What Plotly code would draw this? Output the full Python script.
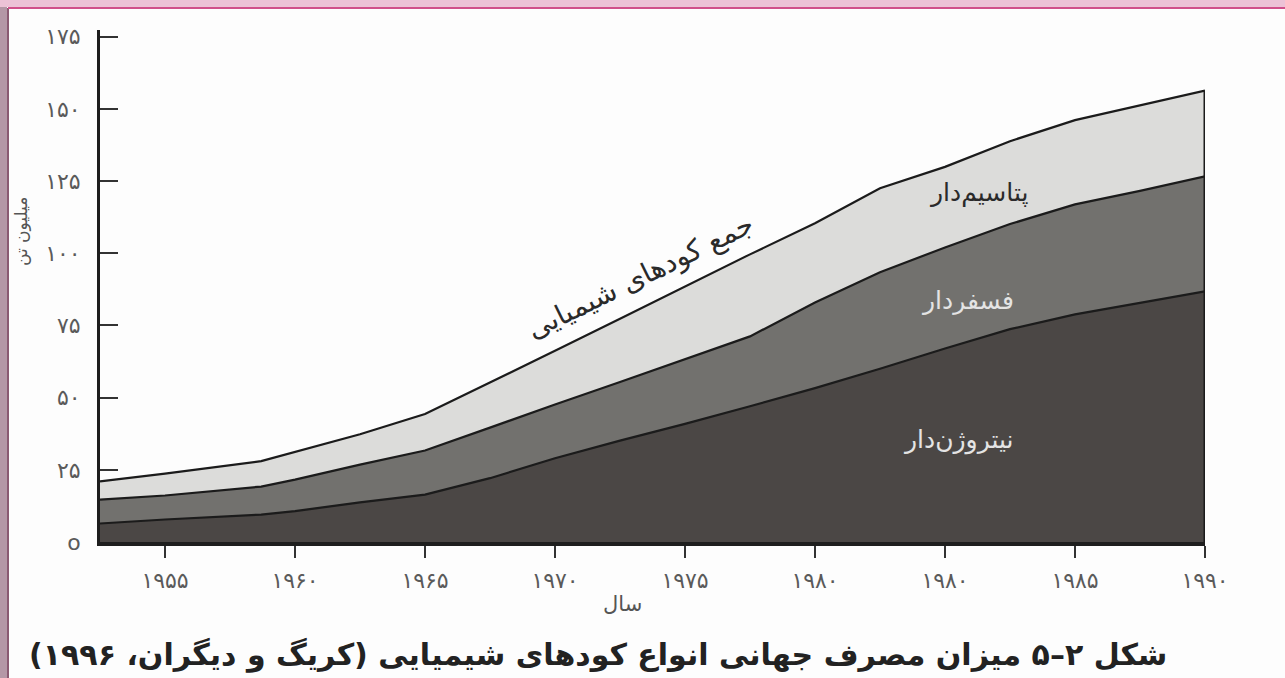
import plotly.graph_objects as go

# x positions (label positions follow the original axis, which repeats "۱۹۸۰")
positions = [1952.5, 1955, 1958.7, 1960, 1962.5, 1965, 1967.5, 1968.5, 1970, 1972.5,
             1975, 1977.5, 1980, 1982.5, 1985, 1987.5, 1990, 1992.5, 1995]

# layer values (million tonnes)
nitrogen = [6.4, 7.8, 9.5, 10.7, 13.7, 16.4, 22.1, 24.9, 29.0, 35.1,
            40.9, 47.0, 53.3, 60.0, 67.0, 73.7, 78.8, 82.8, 86.8]
phosphate = [8.3, 8.3, 9.7, 10.9, 13.1, 15.3, 17.5, 17.8, 18.6, 20.3,
             22.4, 24.2, 29.6, 33.4, 35.0, 36.4, 38.1, 38.8, 39.8]
potash = [6.3, 7.6, 8.8, 9.5, 10.5, 12.6, 15.6, 17.0, 18.6, 21.9,
          25.1, 28.4, 27.5, 29.1, 27.9, 28.7, 29.2, 29.5, 29.7]

x_tick_vals = [1955, 1960, 1965, 1970, 1975, 1980, 1985, 1990, 1995]
x_tick_labels = ["۱۹۵۵", "۱۹۶۰", "۱۹۶۵", "۱۹۷۰", "۱۹۷۵", "۱۹۸۰", "۱۹۸۰", "۱۹۸۵", "۱۹۹۰"]
y_tick_vals = [0, 25, 50, 75, 100, 125, 150, 175]
y_tick_labels = ["o", "۲۵", "۵۰", "۷۵", "۱۰۰", "۱۲۵", "۱۵۰", "۱۷۵"]

layer_names = ["نیتروژن‌دار", "فسفردار", "پتاسیم‌دار"]
layer_colors = ["#4b4745", "#72716e", "#dcdcda"]

FONT = "DejaVu Sans"

fig = go.Figure()
for name, vals, col in zip(layer_names, [nitrogen, phosphate, potash], layer_colors):
    fig.add_trace(go.Scatter(
        x=positions, y=vals, name=name, mode="lines", stackgroup="one",
        line=dict(color="#1b1b1b", width=2.2), fillcolor=col,
        hoverinfo="x+y+name",
    ))

total_last = nitrogen[-1] + phosphate[-1] + potash[-1]

L, R, T, B = 100, 80, 30, 136
W, H = 1285 - L - R, 678 - T - B

fig.update_layout(
    width=1285, height=678,
    margin=dict(l=L, r=R, t=T, b=B),
    paper_bgcolor="#fdfdfd", plot_bgcolor="#fdfdfd",
    showlegend=False,
    font=dict(family=FONT, color="#555555"),
    xaxis=dict(
        range=[positions[0], positions[-1]],
        tickmode="array", tickvals=x_tick_vals, ticktext=x_tick_labels,
        ticks="outside", ticklen=12, tickwidth=2, tickcolor="#333",
        showline=True, linecolor="#1e1e1e", linewidth=4,
        showgrid=False, zeroline=False,
        tickfont=dict(size=22, color="#5a5a5a"),
        ticklabelstandoff=4,
    ),
    yaxis=dict(
        range=[0, 177.3],
        tickmode="array", tickvals=y_tick_vals, ticktext=y_tick_labels,
        ticks="inside", ticklen=18, tickwidth=2, tickcolor="#333",
        showline=True, linecolor="#1e1e1e", linewidth=3,
        showgrid=False, zeroline=False,
        tickfont=dict(size=22, color="#5a5a5a"),
        ticklabelstandoff=12,
    ),
    shapes=[
        dict(type="line", xref="x", yref="y",
             x0=positions[-1], x1=positions[-1], y0=0, y1=total_last,
             line=dict(color="#1b1b1b", width=3)),
        # frame decoration
        dict(type="rect", xref="paper", yref="paper", x0=-L/W, x1=(7-L)/W,
             y0=-B/H, y1=1 + T/H, fillcolor="#b497a6", line=dict(width=0),
             layer="above"),
        dict(type="line", xref="paper", yref="paper", x0=(8-L)/W, x1=(8-L)/W,
             y0=-B/H, y1=1 + (T-8)/H, line=dict(color="#8a5a72", width=2),
             layer="above"),
        dict(type="rect", xref="paper", yref="paper", x0=-L/W, x1=1 + R/W,
             y0=1 + (T-7)/H, y1=1 + T/H, fillcolor="#ecc2d6", line=dict(width=0),
             layer="above"),
        dict(type="line", xref="paper", yref="paper", x0=(8-L)/W, x1=1 + R/W,
             y0=1 + (T-8)/H, y1=1 + (T-8)/H, line=dict(color="#d0508a", width=2),
             layer="above"),
    ],
)

# text placed by pixel position on the page
texts = [
    ("جمع کودهای شیمیایی", 640, 276, -26, 28, "#2a2a2a"),
    (layer_names[2], 978, 193, 0, 25, "#2a2a2a"),
    (layer_names[1], 967, 300, 0, 25, "#e4e4e4"),
    (layer_names[0], 958, 440, 0, 25, "#e4e4e4"),
    ("سال", 622, 604, 0, 21, "#555555"),
    ("میلیون تن", 21, 232, -90, 17, "#555555"),
    ("<b>شکل ۲–۵ میزان مصرف جهانی انواع کودهای شیمیایی (کریگ و دیگران، ۱۹۹۶)</b>",
     598, 655, 0, 30, "#222222"),
]
for txt, px, py, ang, size, col in texts:
    fig.add_annotation(
        text=txt, xref="paper", yref="paper",
        x=(px - L) / W, y=1 - (py - T) / H,
        xanchor="center", yanchor="middle",
        showarrow=False, textangle=ang,
        font=dict(size=size, color=col, family=FONT),
    )

fig.write_html("out.html")
